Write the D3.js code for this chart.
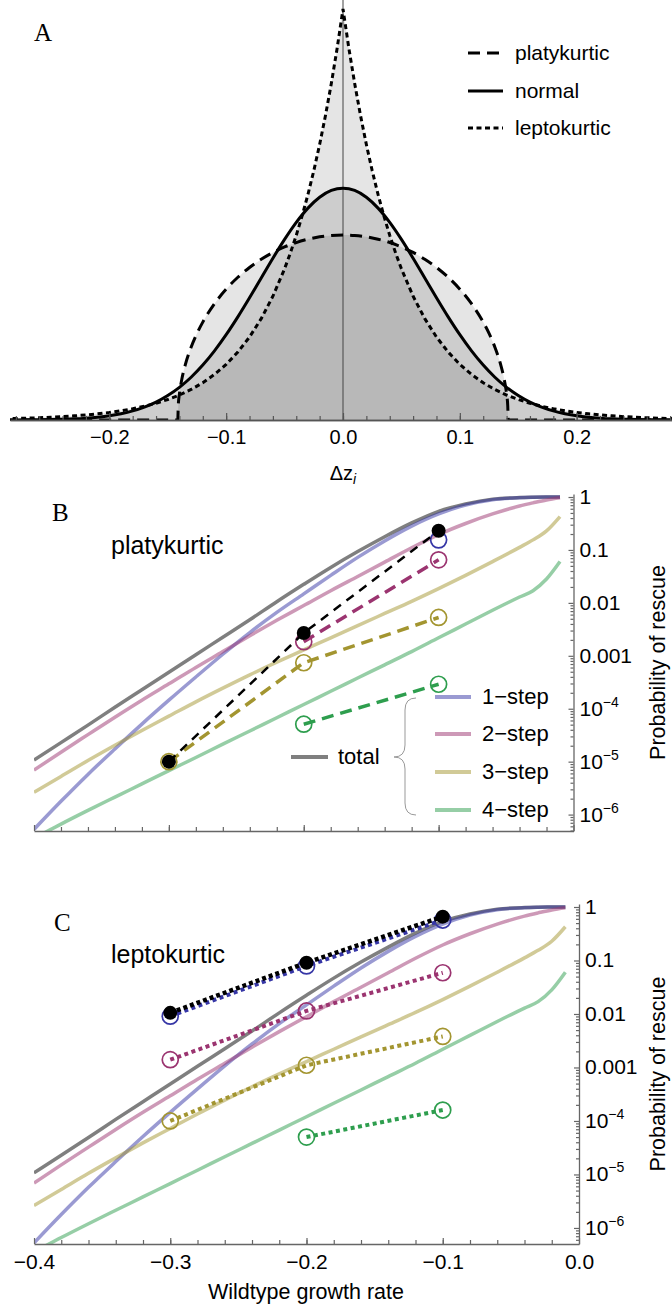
<!DOCTYPE html>
<html>
<head>
<meta charset="utf-8">
<script src="https://cdn.jsdelivr.net/npm/d3@7"></script>
<style>
  body { margin: 0; background: #fff; }
  svg { display: block; }
  text { font-family: "Liberation Sans", Arial, sans-serif; fill: #000; }
  text.letter { font-family: "Liberation Serif", "Times New Roman", serif; }
</style>
</head>
<body>
<svg id="chart" width="672" height="1306"></svg>
<script>
// ---------- panel A: density of mutational effects ----------
const normalX = [-0.29,-0.28,-0.27,-0.26,-0.25,-0.24,-0.23,-0.22,-0.21,-0.2,-0.19,-0.18,-0.17,-0.16,-0.15,-0.14,-0.13,-0.12,-0.11,-0.1,-0.09,-0.08,-0.07,-0.06,-0.05,-0.04,-0.03,-0.02,-0.01,0,
  0.01,0.02,0.03,0.04,0.05,0.06,0.07,0.08,0.09,0.1,0.11,0.12,0.13,0.14,0.15,0.16,0.17,0.18,0.19,0.2,0.21,0.22,0.23,0.24,0.25,0.26,0.27,0.28,0.29];
const normalY = [0.001,0.002,0.004,0.007,0.011,0.018,0.028,0.045,0.069,0.103,0.153,0.221,0.314,0.436,0.595,0.795,1.041,1.337,1.682,2.076,2.510,2.975,3.456,3.936,4.394,4.808,5.156,5.421,5.586,5.642,
  5.586,5.421,5.156,4.808,4.394,3.936,3.456,2.975,2.510,2.076,1.682,1.337,1.041,0.795,0.595,0.436,0.314,0.221,0.153,0.103,0.069,0.045,0.028,0.018,0.011,0.007,0.004,0.002,0.001];

const leptoX = [-0.29,-0.28,-0.27,-0.26,-0.25,-0.24,-0.23,-0.22,-0.21,-0.2,-0.19,-0.18,-0.17,-0.16,-0.15,-0.14,-0.13,-0.12,-0.11,-0.1,-0.09,-0.08,-0.07,-0.06,
  -0.05,-0.045,-0.04,-0.035,-0.03,-0.025,-0.02,-0.015,-0.01,-0.005,0,0.005,0.01,0.015,0.02,0.025,0.03,0.035,0.04,0.045,0.05,
  0.06,0.07,0.08,0.09,0.1,0.11,0.12,0.13,0.14,0.15,0.16,0.17,0.18,0.19,0.2,0.21,0.22,0.23,0.24,0.25,0.26,0.27,0.28,0.29];
const leptoY = [0.030,0.037,0.045,0.055,0.067,0.082,0.101,0.123,0.150,0.183,0.224,0.273,0.334,0.408,0.498,0.608,0.743,0.907,1.108,1.353,1.653,2.019,2.466,3.012,
  3.679,4.066,4.493,4.966,5.488,6.065,6.703,7.408,8.187,9.048,10,9.048,8.187,7.408,6.703,6.065,5.488,4.966,4.493,4.066,3.679,
  3.012,2.466,2.019,1.653,1.353,1.108,0.907,0.743,0.608,0.498,0.408,0.334,0.273,0.224,0.183,0.150,0.123,0.101,0.082,0.067,0.055,0.045,0.037,0.030];

const platyX = [-0.29,-0.1414,-0.141,-0.14,-0.138,-0.135,-0.13,-0.125,-0.12,-0.11,-0.1,-0.09,-0.08,-0.07,-0.06,-0.05,-0.04,-0.03,-0.02,-0.01,0,
  0.01,0.02,0.03,0.04,0.05,0.06,0.07,0.08,0.09,0.1,0.11,0.12,0.125,0.13,0.135,0.138,0.14,0.141,0.1414,0.29];
const platyY = [0,0,0.347,0.637,0.984,1.341,1.772,2.106,2.382,2.829,3.183,3.473,3.712,3.912,4.077,4.211,4.318,4.399,4.457,4.491,4.502,
  4.491,4.457,4.399,4.318,4.211,4.077,3.912,3.712,3.473,3.183,2.829,2.382,2.106,1.772,1.341,0.984,0.637,0.347,0,0];

const xTicksA = [-0.2, -0.1, 0, 0.1, 0.2];
const legendA = ['platykurtic', 'normal', 'leptokurtic'];

// ---------- panels B and C: probability of rescue ----------
const growthRate = [-0.4,-0.38,-0.36,-0.34,-0.32,-0.3,-0.28,-0.26,-0.24,-0.22,-0.2,-0.18,-0.16,-0.14,-0.12,-0.1,-0.08,-0.06,-0.04,-0.03,-0.02,-0.01];
const totalRescue = [1.07e-5,2.29e-5,4.9e-5,1.07e-4,2.29e-4,4.9e-4,1.05e-3,2.24e-3,4.79e-3,0.0105,0.0224,0.0468,0.0933,0.178,0.324,0.537,0.741,0.912,0.977,0.99,0.998,1.0];
const step1Rescue = [5.25e-7,1.78e-6,5.75e-6,1.74e-5,5.13e-5,1.45e-4,3.98e-4,1.07e-3,2.75e-3,6.61e-3,0.0148,0.0331,0.0724,0.148,0.282,0.479,0.708,0.891,0.973,0.99,0.998,1.0];
const step2Rescue = [6.92e-6,1.51e-5,3.24e-5,6.92e-5,1.45e-4,2.95e-4,6.03e-4,1.2e-3,2.4e-3,4.68e-3,8.91e-3,0.017,0.0316,0.0589,0.11,0.195,0.316,0.479,0.676,0.776,0.881,0.966];
const step3Rescue = [2.63e-6,5.25e-6,1.05e-5,2.04e-5,3.89e-5,7.24e-5,1.35e-4,2.45e-4,4.37e-4,7.59e-4,1.29e-3,2.19e-3,3.72e-3,6.31e-3,0.0107,0.0186,0.0331,0.0603,0.112,0.155,0.229,0.427];
const step4Rescue = [3.55e-7,6.61e-7,1.2e-6,2.14e-6,3.8e-6,6.76e-6,1.2e-5,2.14e-5,3.8e-5,6.76e-5,1.2e-4,2.14e-4,3.8e-4,6.76e-4,1.2e-3,2.19e-3,3.98e-3,7.24e-3,0.0129,0.017,0.0282,0.0603];

const simRate = [-0.3, -0.2, -0.1];
const platyTotal = [1.0e-5, 2.7e-3, 0.23];
const platyStep1 = [null, null, 0.155];
const platyStep2 = [null, 1.85e-3, 0.065];
const platyStep3 = [1.0e-5, 7.4e-4, 5.3e-3];
const platyStep4 = [null, 5.1e-5, 2.9e-4];
const leptoTotal = [0.0105, 0.091, 0.66];
const leptoStep1 = [0.0091, 0.079, 0.57];
const leptoStep2 = [1.4e-3, 0.0114, 0.059];
const leptoStep3 = [1.0e-4, 1.1e-3, 3.8e-3];
const leptoStep4 = [null, 5.0e-5, 1.6e-4];

const xTicksBC = [-0.4, -0.3, -0.2, -0.1, 0];
const yTicks = [1, 0.1, 0.01, 0.001, 1e-4, 1e-5, 1e-6];
const yTickLabels = ['1', '0.1', '0.01', '0.001', '10^−4', '10^−5', '10^−6'];
const stepNames = ['1−step', '2−step', '3−step', '4−step'];

const stepColors = ['#3636a6', '#9b3470', '#a39530', '#2e9e4e'];
const svg = d3.select('#chart');

// ================= panel A =================
const xA = d3.scaleLinear().domain([-0.285, 0.285]).range([10, 676]);
const yA = d3.scaleLinear().domain([0, 10.22]).range([420, 0]);

svg.append('clipPath').attr('id', 'clipA').append('rect')
  .attr('x', 10).attr('y', 0).attr('width', 662).attr('height', 421);

const gA = svg.append('g').attr('clip-path', 'url(#clipA)');
const distA = [
  { xs: platyX, ys: platyY, dash: '12,7', curve: d3.curveMonotoneX },
  { xs: normalX, ys: normalY, dash: null, curve: d3.curveMonotoneX },
  { xs: leptoX, ys: leptoY, dash: '5,3.5', curve: d3.curveLinear }
];

distA.forEach(d => {
  const pts = d3.zip(d.xs, d.ys);
  const area = d3.area().x(p => xA(p[0])).y0(yA(0)).y1(p => yA(p[1])).curve(d.curve);
  gA.append('path').attr('d', area(pts)).attr('fill', '#000').attr('fill-opacity', 0.1);
});

// origin line
gA.append('line').attr('x1', xA(0)).attr('x2', xA(0)).attr('y1', 0).attr('y2', 420)
  .attr('stroke', '#444').attr('stroke-width', 1);

// x axis A
const axA = svg.append('g').attr('transform', 'translate(0,420)');
axA.call(d3.axisBottom(xA).tickValues(d3.range(-0.28, 0.281, 0.02)).tickSize(-4).tickSizeOuter(0).tickFormat(''));
axA.append('g').call(d3.axisBottom(xA).tickValues(xTicksA).tickSize(-7).tickSizeOuter(0).tickPadding(10).tickFormat(d3.format('.1f')));
axA.selectAll('path.domain').attr('stroke', '#555').attr('stroke-width', 1.3);
axA.selectAll('.tick line').attr('stroke', '#555').attr('stroke-width', 1.2);
axA.selectAll('text').attr('font-size', 20).attr('fill', '#000');
axA.select('g').select('path.domain').remove();

distA.forEach(d => {
  const pts = d3.zip(d.xs, d.ys);
  const line = d3.line().x(p => xA(p[0])).y(p => yA(p[1])).curve(d.curve);
  gA.append('path').attr('d', line(pts)).attr('fill', 'none')
    .attr('stroke', '#000').attr('stroke-width', 3)
    .attr('stroke-dasharray', d.dash);
});

// legend A
legendA.forEach((name, i) => {
  const ly = [53, 91, 128][i];
  svg.append('line').attr('x1', 468).attr('x2', 503).attr('y1', ly).attr('y2', ly)
    .attr('stroke', '#000').attr('stroke-width', 3).attr('stroke-dasharray', distA[i].dash);
  svg.append('text').attr('x', 515).attr('y', ly + 7).attr('font-size', 21).text(name);
});

svg.append('text').attr('class', 'letter').attr('x', 34).attr('y', 41).attr('font-size', 25).text('A');

const dz = svg.append('text').attr('x', 343).attr('y', 480).attr('font-size', 20).attr('text-anchor', 'middle');
dz.append('tspan').text('Δz');
dz.append('tspan').attr('font-size', 14).attr('font-style', 'italic').attr('dy', 4).text('i');

// ================= panels B and C =================
function rescuePanel(cfg) {
  const x = d3.scaleLinear().domain([-0.4, 0]).range([34, cfg.right]);
  const y = d3.scaleLog().domain([Math.pow(10, cfg.logMin), Math.pow(10, cfg.logMax)]).range([cfg.bottom, cfg.top]);
  const g = svg.append('g');

  g.append('clipPath').attr('id', 'clip' + cfg.id).append('rect')
    .attr('x', 34).attr('y', cfg.top - 3).attr('width', cfg.right - 34).attr('height', cfg.bottom - cfg.top + 3);

  const plot = g.append('g').attr('clip-path', `url(#clip${cfg.id})`);
  const line = d3.line().x(d => x(d[0])).y(d => y(d[1])).curve(d3.curveMonotoneX);

  const theory = [
    { values: totalRescue, color: '#000' },
    { values: step1Rescue, color: stepColors[0] },
    { values: step2Rescue, color: stepColors[1] },
    { values: step3Rescue, color: stepColors[2] },
    { values: step4Rescue, color: stepColors[3] }
  ];
  theory.forEach(s => {
    plot.append('path').attr('d', line(d3.zip(growthRate, s.values)))
      .attr('fill', 'none').attr('stroke', s.color).attr('stroke-opacity', 0.5).attr('stroke-width', 3.5);
  });

  // axes
  const axisColor = '#666';
  const xAx = g.append('g').attr('transform', `translate(0,${cfg.bottom})`);
  xAx.call(d3.axisBottom(x).tickValues(d3.range(-0.38, -0.001, 0.02)).tickSize(-4).tickSizeOuter(0).tickFormat(''));
  const xMaj = xAx.append('g').call(d3.axisBottom(x).tickValues(xTicksBC).tickSize(-6).tickSizeOuter(0)
    .tickPadding(10).tickFormat(cfg.xLabels ? d3.format('.1f') : ''));
  xMaj.select('path.domain').remove();

  const yAx = g.append('g').attr('transform', `translate(${cfg.right},0)`);
  const minor = [];
  for (let e = -7; e <= 0; e++) for (let k = 2; k <= 9; k++) {
    const v = k * Math.pow(10, e);
    if (v > y.domain()[0] && v < y.domain()[1]) minor.push(v);
  }
  yAx.call(d3.axisRight(y).tickValues(minor).tickSize(-3).tickSizeOuter(0).tickFormat(''));
  const yMaj = yAx.append('g').call(d3.axisRight(y).tickValues(yTicks).tickSize(-5).tickSizeOuter(0).tickFormat(''));
  yMaj.select('path.domain').remove();

  g.selectAll('path.domain').attr('stroke', axisColor).attr('stroke-width', 1.3);
  g.selectAll('.tick line').attr('stroke', axisColor).attr('stroke-width', 1.2);
  g.selectAll('.tick text').attr('font-size', 21).attr('fill', '#000');

  yTicks.forEach((v, i) => {
    const t = g.append('text').attr('x', cfg.right + 6).attr('y', y(v) + 7).attr('font-size', 21);
    const parts = yTickLabels[i].split('^');
    t.append('tspan').text(parts[0]);
    if (parts[1]) t.append('tspan').attr('font-size', 14).attr('dy', -9).text(parts[1]);
  });

  g.append('text').attr('transform', `translate(665,${(cfg.top + cfg.bottom) / 2}) rotate(-90)`)
    .attr('text-anchor', 'middle').attr('font-size', 21.5).text('Probability of rescue');

  // simulation results
  const simLine = d3.line().defined(d => d[1] != null).x(d => x(d[0])).y(d => y(d[1]));
  const pts = cfg.sim.map(s => d3.zip(simRate, s));
  pts.slice(1).forEach((p, i) => {
    g.append('path').attr('d', simLine(p)).attr('fill', 'none')
      .attr('stroke', stepColors[i]).attr('stroke-width', cfg.dotted ? 4 : 3.5)
      .attr('stroke-dasharray', cfg.dotted ? '4,3.5' : '12,7');
  });
  pts.slice(1).forEach((p, i) => {
    g.selectAll(null).data(p.filter(d => d[1] != null)).join('circle')
      .attr('cx', d => x(d[0])).attr('cy', d => y(d[1])).attr('r', 8)
      .attr('fill', 'none').attr('stroke', stepColors[i]).attr('stroke-width', 1.7);
  });
  g.append('path').attr('d', simLine(pts[0])).attr('fill', 'none')
    .attr('stroke', '#000').attr('stroke-width', cfg.dotted ? 4.5 : 2.5)
    .attr('stroke-dasharray', cfg.dotted ? '4,3' : '9,7');
  g.selectAll(null).data(pts[0]).join('circle')
    .attr('cx', d => x(d[0])).attr('cy', d => y(d[1])).attr('r', 7).attr('fill', '#000');

  g.append('text').attr('class', 'letter').attr('x', cfg.letterX).attr('y', cfg.letterY).attr('font-size', 25).text(cfg.letter);
  g.append('text').attr('x', 111).attr('y', cfg.nameY).attr('font-size', 25).text(cfg.name);

  return g;
}

const gB = rescuePanel({
  id: 'B', right: 573.5, top: 494, bottom: 831, logMin: -6.31, logMax: 0.057,
  sim: [platyTotal, platyStep1, platyStep2, platyStep3, platyStep4], dotted: false, xLabels: false,
  letter: 'B', letterX: 52, letterY: 521, name: 'platykurtic', nameY: 554
});

// legend in panel B
const legendY = [697, 734, 772, 810];
stepNames.forEach((name, i) => {
  gB.append('line').attr('x1', 435).attr('x2', 471).attr('y1', legendY[i]).attr('y2', legendY[i])
    .attr('stroke', stepColors[i]).attr('stroke-opacity', 0.5).attr('stroke-width', 4);
  gB.append('text').attr('x', 482).attr('y', legendY[i] + 7).attr('font-size', 22).text(name);
});
gB.append('line').attr('x1', 291).attr('x2', 328).attr('y1', 757).attr('y2', 757)
  .attr('stroke', '#000').attr('stroke-opacity', 0.5).attr('stroke-width', 4);
gB.append('text').attr('x', 338).attr('y', 764).attr('font-size', 22).text('total');
gB.append('path')
  .attr('d', 'M416,698 Q405,698 405,710 L405,745 Q405,757 394,757 Q405,757 405,769 L405,803 Q405,815 416,815')
  .attr('fill', 'none').attr('stroke', '#999').attr('stroke-width', 1);

rescuePanel({
  id: 'C', right: 579, top: 904, bottom: 1244, logMin: -6.3, logMax: 0.056,
  sim: [leptoTotal, leptoStep1, leptoStep2, leptoStep3, leptoStep4], dotted: true, xLabels: true,
  letter: 'C', letterX: 54, letterY: 931, name: 'leptokurtic', nameY: 963
});

svg.append('text').attr('x', 306).attr('y', 1299).attr('text-anchor', 'middle').attr('font-size', 21.5)
  .text('Wildtype growth rate');
</script>
</body>
</html>
